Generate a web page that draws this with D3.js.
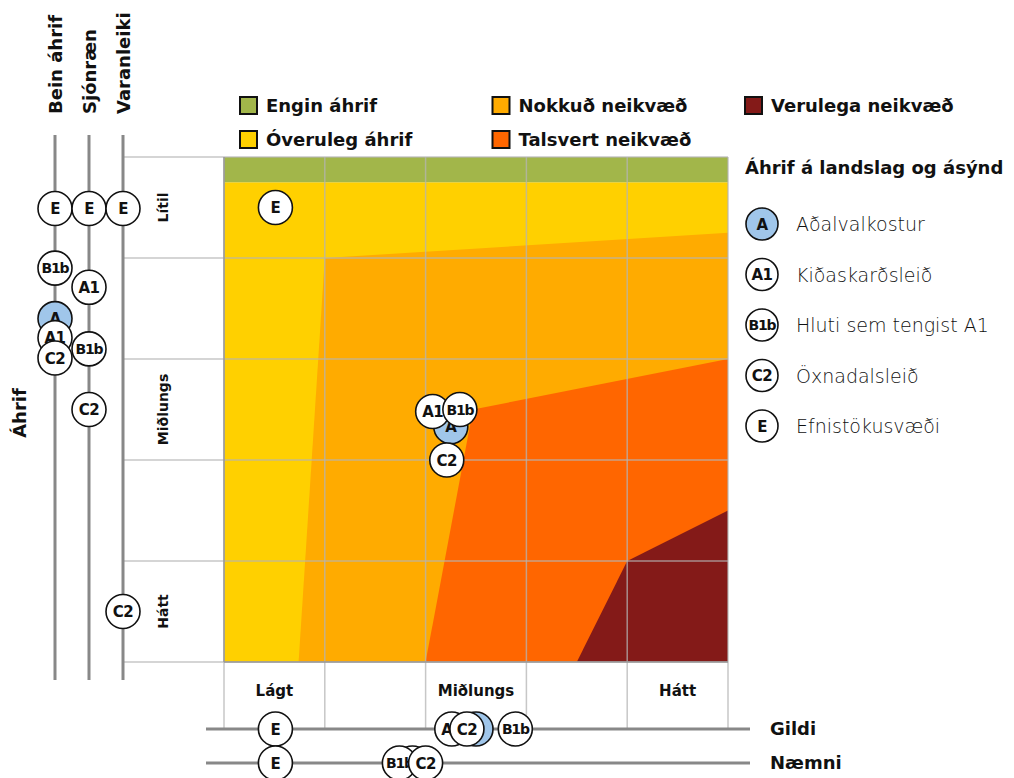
<!DOCTYPE html>
<html><head><meta charset="utf-8">
<script src="https://cdn.jsdelivr.net/npm/d3@7"></script>
<style>
body{margin:0;background:#fff;}
text{font-family:"DejaVu Sans",Inter,sans-serif;}
</style></head>
<body><svg id="c" width="1014" height="778"></svg>
<script>
// ---- data ----
const xLevels = ["Lágt", "", "Miðlungs", "", "Hátt"];
const yLevels = ["Lítil", "", "Miðlungs", "", "Hátt"];
const zoneNames = ["Engin áhrif", "Óveruleg áhrif", "Nokkuð neikvæð", "Talsvert neikvæð", "Verulega neikvæð"];
const zoneColors = ["#a2b64a", "#ffd000", "#ffab00", "#ff6600", "#841a18"];
// zone polygons in data units (x: 0-5 left→right, y: 0-5 top→bottom)
const zoneGreen = [[0,0],[5,0],[5,0.25],[0,0.25]];
const zoneYellow = [[0,0.25],[5,0.25],[5,5],[0,5]];
const zoneOrange = [[1,1],[5,0.75],[5,5],[0.74,5]];
const zoneRed = [[2.47,2.5],[5,2],[5,5],[2,5]];
const zoneDark = [[4,4],[5,3.5],[5,5],[3.5,5]];

const seriesIds = ["A", "A1", "B1b", "C2", "E"];
const seriesNames = ["Aðalvalkostur", "Kiðaskarðsleið", "Hluti sem tengist A1", "Öxnadalsleið", "Efnistökusvæði"];
const seriesFill = ["#a0c6ea", "#fff", "#fff", "#fff", "#fff"];

// main chart points (drawing order)
const mainIds = ["E", "A", "A1", "B1b", "C2"];
const mainX = [0.51, 2.25, 2.07, 2.34, 2.21];
const mainY = [0.50, 2.67, 2.52, 2.50, 3.00];

// left axes (Áhrif)
const leftAxes = ["Bein áhrif", "Sjónræn", "Varanleiki"];
const beinIds = ["E", "B1b", "A", "A1", "C2"];
const beinY = [0.51, 1.10, 1.60, 1.79, 1.99];
const sjonIds = ["E", "A1", "B1b", "C2"];
const sjonY = [0.51, 1.29, 1.90, 2.50];
const varIds = ["E", "C2"];
const varY = [0.51, 4.50];

// bottom axes
const bottomAxes = ["Gildi", "Næmni"];
const gildiIds = ["E", "A1", "A", "C2", "B1b"];
const gildiX = [0.51, 2.26, 2.50, 2.41, 2.89];
const naemniIds = ["E", "A1", "B1b", "C2"];
const naemniX = [0.51, 1.87, 1.74, 2.00];

// ---- drawing ----
const svg = d3.select("#c");
const x = d3.scaleLinear().domain([0,5]).range([224,728]);
const y = d3.scaleLinear().domain([0,5]).range([157,662]);
const leftX = d3.scalePoint().domain(leftAxes).range([55,123]);
const bottomY = d3.scalePoint().domain(bottomAxes).range([729,763]);
const fillOf = id => seriesFill[seriesIds.indexOf(id)];
const line = d3.line().x(d=>x(d[0])).y(d=>y(d[1]));
const poly = pts => line(pts) + "Z";

// zones
[[zoneYellow,1],[zoneGreen,0],[zoneOrange,2],[zoneRed,3],[zoneDark,4]].forEach(([p,i])=>{
  svg.append("path").attr("d", poly(p)).attr("fill", zoneColors[i]);
});

// grid
const g = svg.append("g");
d3.range(0,6).forEach(i=>{
  g.append("line").attr("x1", leftX("Varanleiki")).attr("x2", x(5))
   .attr("y1", y(i)).attr("y2", y(i))
   .attr("stroke", "#b4b4b4").attr("stroke-opacity", 0.75).attr("stroke-width", 1.5);
  g.append("line").attr("x1", x(i)).attr("x2", x(i))
   .attr("y1", y(0)).attr("y2", bottomY("Gildi"))
   .attr("stroke", "#b4b4b4").attr("stroke-opacity", 0.75).attr("stroke-width", 1.5);
});
svg.append("line").attr("x1", x(0)).attr("x2", x(0)).attr("y1", y(0)).attr("y2", y(5)).attr("stroke", "#999").attr("stroke-width", 1.5);
svg.append("line").attr("x1", x(0)).attr("x2", x(5)).attr("y1", y(5)).attr("y2", y(5)).attr("stroke", "#999").attr("stroke-width", 1.5);

// axis level labels
yLevels.forEach((t,i)=>{
  if(!t) return;
  svg.append("text").attr("transform", `translate(168,${y(i+0.5)}) rotate(-90)`)
    .attr("text-anchor","middle").attr("font-size",14).attr("font-weight",700).attr("fill","#111").text(t);
});
xLevels.forEach((t,i)=>{
  if(!t) return;
  svg.append("text").attr("x", x(i+0.5)).attr("y", 696)
    .attr("text-anchor","middle").attr("font-size",15).attr("font-weight",700).attr("fill","#111").text(t);
});

// left axes lines
leftAxes.forEach(a=>{
  svg.append("line").attr("x1", leftX(a)).attr("x2", leftX(a)).attr("y1",135).attr("y2",680)
    .attr("stroke","#888").attr("stroke-width",3);
  svg.append("text").attr("transform", `translate(${leftX(a)+7},114) rotate(-90)`)
    .attr("text-anchor","start").attr("font-size",18).attr("font-weight",700).attr("fill","#111").text(a);
});
svg.append("text").attr("transform", "translate(26,413) rotate(-90)")
  .attr("text-anchor","middle").attr("font-size",18).attr("font-weight",700).attr("fill","#111").text("Áhrif");

// bottom axes
bottomAxes.forEach(a=>{
  svg.append("line").attr("x1",206).attr("x2",750).attr("y1",bottomY(a)).attr("y2",bottomY(a))
    .attr("stroke","#888").attr("stroke-width",3);
  svg.append("text").attr("x",770).attr("y",bottomY(a)+6).attr("font-size",18).attr("font-weight",700).attr("fill","#111").text(a);
});

function marker(cx, cy, id, r=17){
  const m = svg.append("g").attr("transform", `translate(${cx},${cy})`);
  m.append("circle").attr("r", r).attr("fill", fillOf(id)).attr("stroke","#111").attr("stroke-width",1.6);
  m.append("text").attr("text-anchor","middle").attr("dy","0.37em")
    .attr("font-size", id.length>2?14:15).attr("font-weight",700).attr("letter-spacing", id.length>2?-1.2:-0.5)
    .attr("fill","#111").text(id);
}

beinIds.forEach((id,i)=>marker(leftX("Bein áhrif"), y(beinY[i]), id));
sjonIds.forEach((id,i)=>marker(leftX("Sjónræn"), y(sjonY[i]), id));
varIds.forEach((id,i)=>marker(leftX("Varanleiki"), y(varY[i]), id));
gildiIds.forEach((id,i)=>marker(x(gildiX[i]), bottomY("Gildi"), id));
naemniIds.forEach((id,i)=>marker(x(naemniX[i]), bottomY("Næmni"), id));
mainIds.forEach((id,i)=>marker(x(mainX[i]), y(mainY[i]), id));

// top legend (zones)
const legOrder = [0,2,4,1,3];
const legCol = d3.scalePoint().domain([0,1,2]).range([240,745]);
legOrder.forEach((zi,k)=>{
  const col = k<3 ? k : k-3, row = k<3 ? 0 : 1;
  const lx = legCol(col), ly = 97 + row*34;
  svg.append("rect").attr("x",lx).attr("y",ly).attr("width",17).attr("height",17)
    .attr("fill",zoneColors[zi]).attr("stroke","#111").attr("stroke-width",2);
  svg.append("text").attr("x",lx+26).attr("y",ly+15).attr("font-size",18).attr("font-weight",700).attr("fill","#111").text(zoneNames[zi]);
});

// right legend (series)
svg.append("text").attr("x",745).attr("y",174).attr("font-size",18).attr("font-weight",700).attr("fill","#111").text("Áhrif á landslag og ásýnd");
const legY = d3.scalePoint().domain(seriesIds).range([224,426]);
seriesIds.forEach((id,i)=>{
  marker(762, legY(id), id, 16);
  svg.append("text").attr("x",796).attr("y",legY(id)+7).attr("font-size",19).attr("font-weight",200).attr("fill","#111").text(seriesNames[i]);
});
</script></body></html>
